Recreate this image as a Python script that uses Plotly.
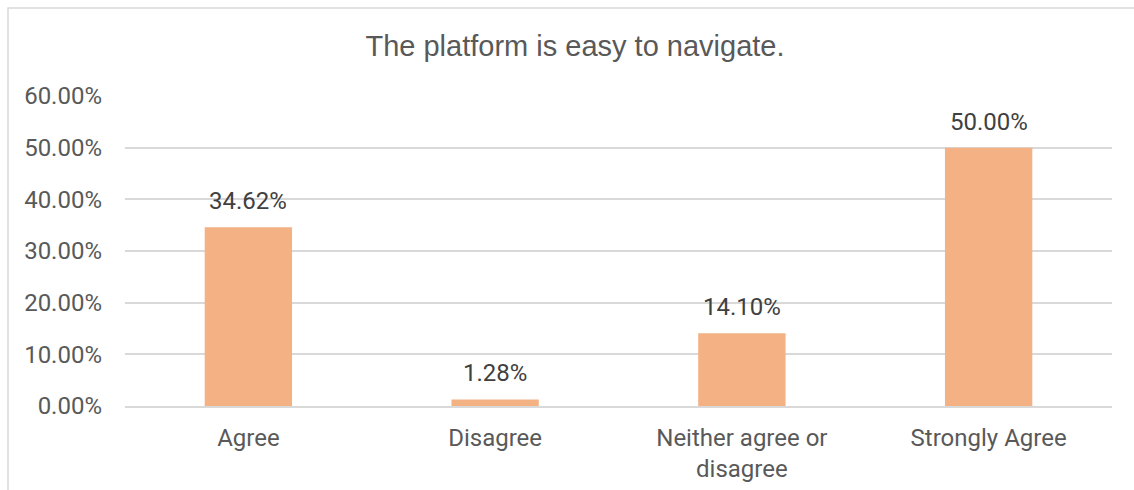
import plotly.graph_objects as go

# Survey responses for the navigation question
categories = ["Agree", "Disagree", "Neither agree or<br>disagree", "Strongly Agree"]
shares = [0.3462, 0.0128, 0.1410, 0.5000]
y_ticks = [0.0, 0.1, 0.2, 0.3, 0.4, 0.5, 0.6]

title_text = "The platform is easy to navigate."

BAR_COLOR = "#F4B183"
GRID_COLOR = "#D9D9D9"
TEXT_GREY = "#595959"
LABEL_GREY = "#404040"

W, H = 1134, 490
M_L, M_R, M_T, M_B = 125, 22, 96, 84
plot_w = W - M_L - M_R
plot_h = H - M_T - M_B

fig = go.Figure(
    go.Bar(
        x=categories,
        y=shares,
        marker=dict(color=BAR_COLOR, line=dict(width=0)),
        hoverinfo="skip",
    )
)

# value labels above each bar
for cat, val in zip(categories, shares):
    fig.add_annotation(
        x=cat, y=val, text=f"{val:.2%}",
        showarrow=False, yanchor="bottom", yshift=10,
        font=dict(family="Roboto", size=24, color=LABEL_GREY),
    )

# outer chart frame (top and left edges visible)
def px_x(px):
    return (px - M_L) / plot_w

def px_y(py):
    return (H - M_B - py) / plot_h

fig.add_shape(
    type="rect", xref="paper", yref="paper",
    x0=px_x(8), x1=px_x(1200), y0=px_y(600), y1=px_y(8),
    line=dict(color=GRID_COLOR, width=1.5), fillcolor="rgba(0,0,0,0)",
    layer="below",
)

fig.update_layout(
    width=W, height=H,
    margin=dict(l=M_L, r=M_R, t=M_T, b=M_B, autoexpand=False),
    paper_bgcolor="white",
    plot_bgcolor="white",
    bargap=0.646,
    showlegend=False,
    title=dict(
        text=title_text,
        x=575 / W, xanchor="center", xref="container",
        y=1 - 46 / H, yanchor="middle", yref="container",
        font=dict(family="Liberation Sans", size=29, color=TEXT_GREY),
    ),
    font=dict(family="Roboto", size=24, color=TEXT_GREY),
)

fig.update_xaxes(
    showgrid=False,
    showline=True, linecolor=GRID_COLOR, linewidth=1.5,
    ticks="", ticklabelstandoff=9,
    tickfont=dict(family="Roboto", size=24, color=TEXT_GREY),
)
fig.update_yaxes(
    range=[0, 0.6],
    tickvals=y_ticks,
    tickformat=".2%",
    showgrid=True, gridcolor=GRID_COLOR, gridwidth=1.5,
    zeroline=False, showline=False,
    ticks="", ticklabelstandoff=22,
    tickfont=dict(family="Roboto", size=24, color=TEXT_GREY),
)

fig.write_html("out.html")
